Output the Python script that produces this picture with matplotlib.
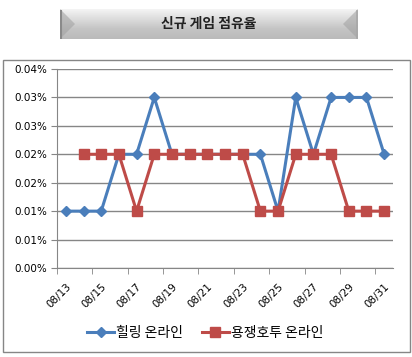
import numpy as np
import matplotlib.pyplot as plt
from matplotlib.patches import Rectangle, Polygon
from matplotlib.colors import LinearSegmentedColormap

plt.rcParams['font.family'] = ['Noto Sans CJK KR', 'DejaVu Sans']

# data (values in %)
dates = ['08/13', '08/14', '08/15', '08/16', '08/17', '08/18', '08/19', '08/20',
         '08/21', '08/22', '08/23', '08/24', '08/25', '08/26', '08/27', '08/28',
         '08/29', '08/30', '08/31']
healing = [0.01, 0.01, 0.01, 0.02, 0.02, 0.03, 0.02, 0.02, 0.02, 0.02,
           0.02, 0.02, 0.01, 0.03, 0.02, 0.03, 0.03, 0.03, 0.02]
yongjaeng = [np.nan, 0.02, 0.02, 0.02, 0.01, 0.02, 0.02, 0.02, 0.02, 0.02,
             0.02, 0.01, 0.01, 0.02, 0.02, 0.02, 0.01, 0.01, 0.01]
ytick_vals = [0, 0.005, 0.01, 0.015, 0.02, 0.025, 0.03, 0.035]
ytick_labels = ['0.00%', '0.01%', '0.01%', '0.02%', '0.02%', '0.03%', '0.03%', '0.04%']

W, H = 412, 357
fig = plt.figure(figsize=(W / 100, H / 100), dpi=100)

# outer chart border
fig.patches.append(Rectangle((3 / W, 1 - 352 / H), 407 / W, 292 / H,
                             transform=fig.transFigure, fill=False,
                             edgecolor='#868686', lw=1))

# title button
tax = fig.add_axes([60 / W, 1 - 39 / H, 298 / W, 30 / H])
grad = np.linspace(0, 1, 50).reshape(-1, 1)
cmap = LinearSegmentedColormap.from_list('g', ['#f4f4f4', '#dcdcdc', '#c4c4c4', '#bababa'])
tax.imshow(grad, aspect='auto', cmap=cmap, extent=[0, 1, 0, 1], origin='upper')
bev = 15 / 298
tax.add_patch(Polygon([(0, 0), (0, 1), (bev, 0.5)], closed=True,
                      facecolor='#a0a0a0', edgecolor='none', alpha=0.55))
tax.add_patch(Polygon([(1, 0), (1, 1), (1 - bev, 0.5)], closed=True,
                      facecolor='#a0a0a0', edgecolor='none', alpha=0.55))
tax.plot([0.004, 0.004], [0.05, 0.95], color='#8a8a8a', lw=1.5)
tax.plot([0.996, 0.996], [0.05, 0.95], color='#a8a8a8', lw=1.2)
tax.set_xlim(0, 1)
tax.set_ylim(0, 1)
tax.axis('off')
tax.text(0.5, 0.5, '신규 게임 점유율', ha='center', va='center', fontsize=10,
         fontweight='bold', color='#222222')

# plot area
ax = fig.add_axes([57 / W, 1 - 268 / H, 336 / W, 199 / H])
x = np.arange(len(dates))
ax.plot(x, healing, color='#4a7ebb', lw=2.2, marker='D', markersize=5.5,
        label='힐링 온라인')
ax.plot(x, yongjaeng, color='#be4b48', lw=2.2, marker='s', markersize=6.5,
        label='용쟁호투 온라인')

ax.set_xlim(-0.5, len(dates) - 0.5)
ax.set_ylim(0, 0.035)
ax.set_yticks(ytick_vals)
ax.set_yticklabels(ytick_labels, fontsize=7.5, family='DejaVu Sans')
ax.yaxis.grid(True, color='#868686', lw=1)
ax.set_axisbelow(True)

ax.set_xticks(x[::2])
ax.set_xticklabels(dates[::2], rotation=45, ha='right', rotation_mode='anchor',
                   fontsize=7.5, family='DejaVu Sans')
ax.set_xticks(np.arange(-0.5, len(dates), 2), minor=True)
ax.tick_params(axis='x', which='major', length=0, pad=10)
ax.tick_params(axis='x', which='minor', length=4, color='#868686')
ax.tick_params(axis='y', length=4, color='#868686', pad=3)

for s in ['top', 'right']:
    ax.spines[s].set_visible(False)
for s in ['left', 'bottom']:
    ax.spines[s].set_color('#868686')

fig.legend(loc='center', bbox_to_anchor=(0.498, 1 - 333 / H), ncol=2, frameon=False,
           fontsize=10, handlelength=1.9, columnspacing=1.4, handletextpad=0.15)

fig.savefig('out.png', dpi=100)
